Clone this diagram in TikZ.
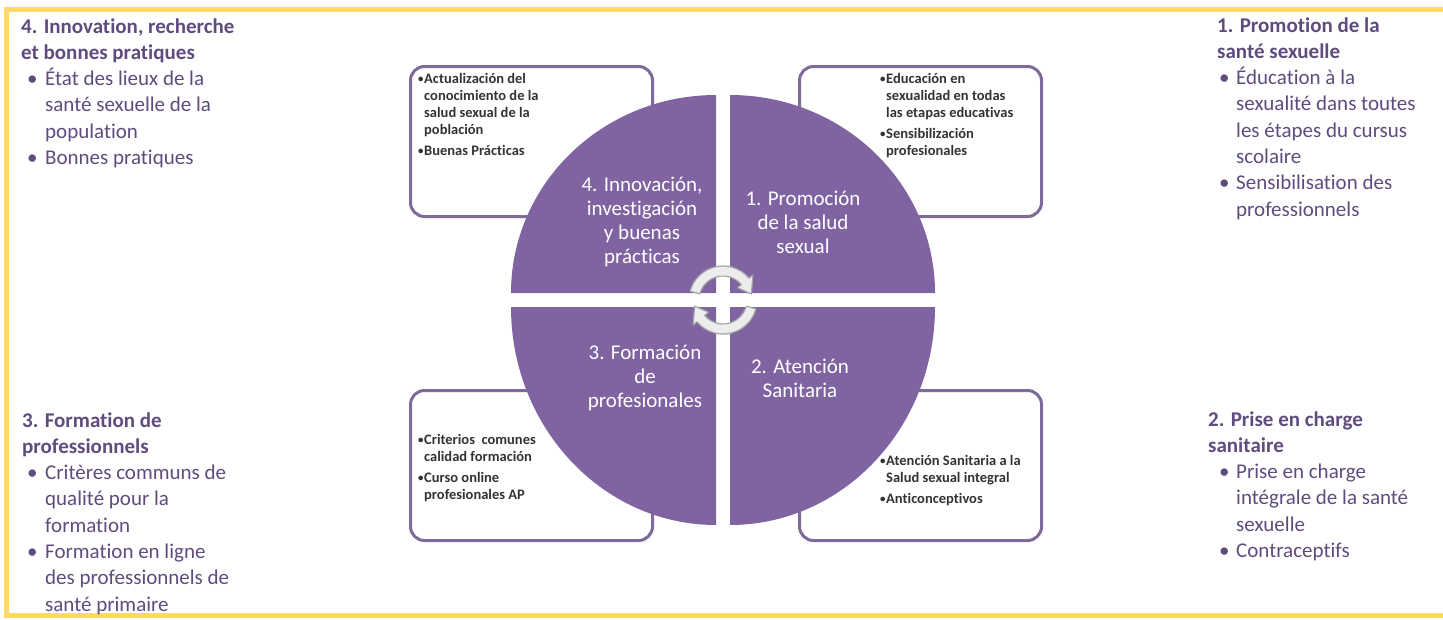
\documentclass[tikz,border=0pt]{standalone}
\usepackage{fontspec}
\setmainfont{Carlito}[Ligatures=NoCommon]
\definecolor{frameyellow}{HTML}{FFD966}
\definecolor{sidetext}{HTML}{5F4B7E}
\definecolor{piefill}{HTML}{8064A2}
\definecolor{boxline}{HTML}{7E6B99}
\definecolor{boxtext}{HTML}{333333}
\definecolor{arrowfill}{HTML}{EDEDED}
\definecolor{arrowline}{HTML}{A5A5A5}
% bullet and hanging indent for the side lists
\newcommand\sbul[2]{\hspace*{#1pt}\makebox[#2pt][l]{\textbullet}}
\newcommand\shang[1]{\hspace*{#1pt}}
% small bullet for the boxes
\newcommand\kbul{\makebox[6pt][l]{\raisebox{1pt}{\scalebox{0.75}{\textbullet}}}}
\newcommand\khang{\hspace*{6pt}}
\begin{document}
\begin{tikzpicture}[x=1pt,y=-1pt,
  side/.style={anchor=base west, inner sep=0pt, text=sidetext,
    font=\fontsize{21}{26.3}\selectfont},
  infobox/.style={draw=boxline, line width=3pt, rounded corners=14pt,
    fill=white, anchor=north west, inner sep=0pt,
    minimum width=242pt, minimum height=150pt},
  boxlist/.style={anchor=base west, inner sep=0pt, text=boxtext,
    font=\bfseries\fontsize{14.5}{17}\selectfont},
  quarter/.style={fill=piefill},
  quartertext/.style={text=white, align=center, inner sep=0pt,
    font=\fontsize{21}{24}\selectfont},
  cyclearrow/.style={fill=arrowfill, draw=arrowline, line width=1.2pt, line join=round}]
\useasboundingbox (0,0) rectangle (1443,619);

% yellow frame, open on the right
\draw[frameyellow, line width=5pt] (1443,9.5) -- (6.5,9.5) -- (6.5,615.5) -- (1443,615.5);

% side lists
\node[side] (s4) at (21,33) {\parbox[t]{260pt}{\raggedright
  \textbf{4. Innovation, recherche}\\
  \textbf{et bonnes pratiques}\\
  \sbul{6}{18}État des lieux de la\\
  \shang{24}santé sexuelle de la\\
  \shang{24}population\\
  \sbul{6}{18}Bonnes pratiques}};

\node[side] (s1) at (1217,32) {\parbox[t]{220pt}{\raggedright
  \textbf{1. Promotion de la}\\
  \textbf{santé sexuelle}\\
  \sbul{2}{17}Éducation à la\\
  \shang{19}sexualité dans toutes\\
  \shang{19}les étapes du cursus\\
  \shang{19}scolaire\\
  \sbul{2}{17}Sensibilisation des\\
  \shang{19}professionnels}};

\node[side] (s3) at (22,427) {\parbox[t]{260pt}{\raggedright
  \textbf{3. Formation de}\\
  \textbf{professionnels}\\
  \sbul{5}{18}Critères communs de\\
  \shang{23}qualité pour la\\
  \shang{23}formation\\
  \sbul{5}{18}Formation en ligne\\
  \shang{23}des professionnels de\\
  \shang{23}santé primaire}};

\node[side] (s2) at (1208,426) {\parbox[t]{230pt}{\raggedright
  \textbf{2. Prise en charge}\\
  \textbf{sanitaire}\\
  \sbul{11}{17}Prise en charge\\
  \shang{28}intégrale de la santé\\
  \shang{28}sexuelle\\
  \sbul{11}{17}Contraceptifs}};

% the four text boxes behind the disc
\node[infobox] (b4) at (409,65) {};
\node[infobox] (b1) at (798,65) {};
\node[infobox] (b3) at (409,389) {};
\node[infobox] (b2) at (798,389) {};

\node[boxlist] (t4) at (418,83) {\parbox[t]{200pt}{\raggedright
  \kbul Actualización del\\
  \khang conocimiento de la\\
  \khang salud sexual de la\\
  \khang población\\[4pt]
  \kbul Buenas Prácticas}};
\node[boxlist] (t1) at (880,83) {\parbox[t]{200pt}{\raggedright
  \kbul Educación en\\
  \khang sexualidad en todas\\
  \khang las etapas educativas\\[4pt]
  \kbul Sensibilización\\
  \khang profesionales}};
\node[boxlist] (t3) at (418,444) {\parbox[t]{200pt}{\raggedright
  \kbul Criterios\ \ comunes\\
  \khang calidad formación\\[4pt]
  \kbul Curso online\\
  \khang profesionales AP}};
\node[boxlist] (t2) at (880,465) {\parbox[t]{200pt}{\raggedright
  \kbul Atención Sanitaria a la\\
  \khang Salud sexual integral\\[4pt]
  \kbul Anticonceptivos}};

% the disc, cut into four quarters
\fill[quarter] (730,293) -- ++(0,-198) arc[start angle=-90, end angle=0, x radius=205, y radius=198] -- cycle;
\fill[quarter] (716,293) -- ++(-205,0) arc[start angle=180, end angle=270, x radius=205, y radius=198] -- cycle;
\fill[quarter] (716,307) -- ++(0,218) arc[start angle=90, end angle=180, x radius=205, y radius=218] -- cycle;
\fill[quarter] (730,307) -- ++(205,0) arc[start angle=0, end angle=90, x radius=205, y radius=218] -- cycle;

\node[quartertext] (q4) at (642,222) {4. Innovación,\\investigación\\y buenas\\prácticas};
\node[quartertext] (q1) at (803,222) {1. Promoción\\de la salud\\sexual};
\node[quartertext] (q3) at (645,378) {3. Formación\\de\\profesionales};
\node[quartertext] (q2) at (800,378) {2. Atención\\Sanitaria};

% circular arrows in the middle
\coordinate (c) at (723,300);
\path[cyclearrow] ([shift={(c)}]-165:34) arc[start angle=-165, end angle=-40, radius=34]
  -- ([shift={(c)}]-40:39) -- ([shift={(c)}]-12:29) -- ([shift={(c)}]-40:19)
  -- ([shift={(c)}]-40:24) arc[start angle=-40, end angle=-165, radius=24] -- cycle;
\path[cyclearrow] ([shift={(c)}]15:34) arc[start angle=15, end angle=140, radius=34]
  -- ([shift={(c)}]140:39) -- ([shift={(c)}]168:29) -- ([shift={(c)}]140:19)
  -- ([shift={(c)}]140:24) arc[start angle=140, end angle=15, radius=24] -- cycle;
\end{tikzpicture}
\end{document}
